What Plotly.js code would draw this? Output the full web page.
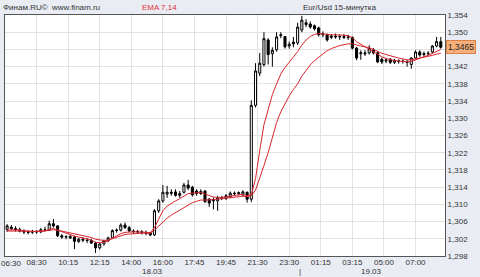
<!DOCTYPE html>
<html>
<head>
<meta charset="utf-8">
<script src="https://cdn.plot.ly/plotly-3.0.1.min.js"></script>
<style>
html,body{margin:0;padding:0;background:#e9ecf3;}
#chart{width:480px;height:277px;}
</style>
</head>
<body>
<div id="chart"></div>
<script>
// Time-axis tick labels (every 7.5 fifteen-minute candles)
const timeLabels = ["06:30","08:30","10:15","12:15","14:00","16:00","17:45","19:45","21:30","23:30","01:15","03:15","05:00","07:00"];
const dateLabels = ["18.03","19.03"];
const dateLabelCandle = [35, 87];
const daySplitCandle = [70];
const yTicks = [1.298,1.302,1.306,1.310,1.314,1.318,1.322,1.326,1.330,1.334,1.338,1.342,1.346,1.350,1.354];
const lastPrice = 1.3465;

const open = [
1.3042,1.3047,1.3044,1.3041,1.3038,1.3036,1.3035,1.3037,1.3036,1.3041,
1.3040,1.3055,1.3050,1.3027,1.3024,1.3025,1.3024,1.3014,1.3019,1.3017,
1.3016,1.3010,1.2999,1.3008,1.3016,1.3022,1.3039,1.3040,1.3052,1.3046,
1.3038,1.3037,1.3036,1.3035,1.3034,1.3029,1.3085,1.3108,1.3124,1.3128,
1.3129,1.3121,1.3128,1.3145,1.3140,1.3131,1.3125,1.3131,1.3112,1.3108,
1.3108,1.3115,1.3114,1.3118,1.3126,1.3125,1.3122,1.3128,1.3112,1.3330,
1.3405,1.3425,1.3482,1.3450,1.3459,1.3492,1.3490,1.3468,1.3477,1.3475,
1.3505,1.3522,1.3519,1.3515,1.3510,1.3494,1.3494,1.3488,1.3491,1.3489,
1.3490,1.3488,1.3488,1.3463,1.3450,1.3452,1.3452,1.3459,1.3452,1.3437,
1.3433,1.3437,1.3430,1.3432,1.3433,1.3431,1.3425,1.3440,1.3454,1.3448,
1.3450,1.3454,1.3468,1.3478];
const high = [
1.3054,1.3052,1.3049,1.3046,1.3042,1.3040,1.3041,1.3040,1.3045,1.3048,
1.3062,1.3066,1.3052,1.3031,1.3028,1.3030,1.3027,1.3022,1.3024,1.3022,
1.3020,1.3013,1.3010,1.3018,1.3025,1.3042,1.3044,1.3056,1.3058,1.3050,
1.3042,1.3041,1.3040,1.3039,1.3036,1.3089,1.3112,1.3145,1.3143,1.3135,
1.3135,1.3131,1.3150,1.3157,1.3143,1.3135,1.3135,1.3133,1.3115,1.3116,
1.3120,1.3120,1.3124,1.3130,1.3130,1.3130,1.3133,1.3130,1.3342,1.3428,
1.3452,1.3500,1.3486,1.3465,1.3500,1.3500,1.3489,1.3478,1.3489,1.3522,
1.3538,1.3530,1.3525,1.3518,1.3513,1.3502,1.3497,1.3496,1.3497,1.3495,
1.3496,1.3494,1.3490,1.3466,1.3458,1.3458,1.3470,1.3463,1.3455,1.3441,
1.3440,1.3440,1.3438,1.3437,1.3437,1.3435,1.3442,1.3458,1.3458,1.3455,
1.3456,1.3470,1.3489,1.3489];
const low = [
1.3036,1.3040,1.3037,1.3035,1.3031,1.3030,1.3031,1.3032,1.3033,1.3038,
1.3038,1.3046,1.3024,1.3020,1.3019,1.3020,1.2996,1.3010,1.3012,1.3010,
1.3008,1.2987,1.2995,1.3004,1.3012,1.3020,1.3034,1.3037,1.3043,1.3036,
1.3032,1.3031,1.3030,1.3028,1.3026,1.3027,1.3080,1.3104,1.3115,1.3120,
1.3118,1.3115,1.3125,1.3133,1.3118,1.3120,1.3122,1.3104,1.3094,1.3088,
1.3085,1.3110,1.3110,1.3114,1.3120,1.3121,1.3119,1.3104,1.3105,1.3325,
1.3398,1.3420,1.3425,1.3420,1.3455,1.3486,1.3462,1.3462,1.3465,1.3470,
1.3500,1.3512,1.3508,1.3504,1.3490,1.3488,1.3478,1.3484,1.3485,1.3482,
1.3484,1.3482,1.3460,1.3435,1.3436,1.3445,1.3448,1.3448,1.3428,1.3426,
1.3428,1.3426,1.3426,1.3427,1.3427,1.3420,1.3415,1.3437,1.3443,1.3443,
1.3445,1.3450,1.3465,1.3462];
const close = [
1.3050,1.3044,1.3041,1.3038,1.3036,1.3035,1.3037,1.3036,1.3041,1.3040,
1.3055,1.3050,1.3027,1.3024,1.3025,1.3022,1.3014,1.3019,1.3017,1.3016,
1.3010,1.2999,1.3008,1.3016,1.3022,1.3039,1.3040,1.3052,1.3046,1.3038,
1.3037,1.3036,1.3035,1.3033,1.3029,1.3085,1.3108,1.3128,1.3128,1.3126,
1.3121,1.3125,1.3145,1.3138,1.3122,1.3125,1.3130,1.3106,1.3103,1.3110,
1.3115,1.3114,1.3120,1.3126,1.3125,1.3127,1.3129,1.3112,1.3330,1.3410,
1.3428,1.3485,1.3448,1.3458,1.3489,1.3494,1.3466,1.3472,1.3473,1.3512,
1.3528,1.3518,1.3512,1.3508,1.3494,1.3496,1.3482,1.3491,1.3489,1.3490,
1.3488,1.3489,1.3463,1.3440,1.3452,1.3450,1.3462,1.3452,1.3431,1.3431,
1.3435,1.3430,1.3435,1.3433,1.3432,1.3430,1.3440,1.3454,1.3447,1.3450,
1.3451,1.3468,1.3478,1.3465];
const ema7 = [
1.3040,1.3041,1.3041,1.3040,1.3038,1.3037,1.3037,1.3037,1.3038,1.3038,
1.3042,1.3044,1.3040,1.3036,1.3033,1.3030,1.3026,1.3024,1.3022,1.3020,
1.3017,1.3012,1.3011,1.3012,1.3015,1.3021,1.3026,1.3032,1.3035,1.3036,
1.3036,1.3036,1.3036,1.3035,1.3034,1.3046,1.3066,1.3085,1.3096,1.3103,
1.3108,1.3113,1.3120,1.3125,1.3126,1.3127,1.3128,1.3124,1.3120,1.3117,
1.3116,1.3116,1.3117,1.3119,1.3121,1.3122,1.3123,1.3120,1.3122,1.3160,
1.3225,1.3285,1.3320,1.3355,1.3380,1.3403,1.3418,1.3430,1.3442,1.3455,
1.3470,1.3482,1.3490,1.3495,1.3497,1.3496,1.3494,1.3494,1.3494,1.3494,
1.3493,1.3492,1.3487,1.3478,1.3472,1.3466,1.3462,1.3456,1.3450,1.3443,
1.3439,1.3436,1.3434,1.3433,1.3432,1.3431,1.3432,1.3436,1.3440,1.3443,
1.3446,1.3451,1.3455,1.3460];
const ema14 = [
1.3038,1.3038,1.3039,1.3039,1.3038,1.3038,1.3037,1.3037,1.3037,1.3038,
1.3040,1.3041,1.3040,1.3038,1.3036,1.3034,1.3031,1.3029,1.3027,1.3025,
1.3023,1.3019,1.3017,1.3016,1.3017,1.3020,1.3023,1.3027,1.3030,1.3031,
1.3032,1.3033,1.3033,1.3033,1.3033,1.3040,1.3049,1.3060,1.3068,1.3075,
1.3081,1.3087,1.3094,1.3100,1.3104,1.3107,1.3110,1.3110,1.3110,1.3111,
1.3112,1.3113,1.3114,1.3116,1.3117,1.3118,1.3119,1.3118,1.3120,1.3133,
1.3160,1.3190,1.3220,1.3255,1.3290,1.3315,1.3335,1.3352,1.3367,1.3380,
1.3398,1.3412,1.3424,1.3434,1.3442,1.3450,1.3457,1.3462,1.3466,1.3469,
1.3471,1.3473,1.3473,1.3470,1.3468,1.3466,1.3464,1.3460,1.3455,1.3451,
1.3448,1.3445,1.3442,1.3440,1.3438,1.3436,1.3436,1.3438,1.3439,1.3441,
1.3443,1.3446,1.3449,1.3451];

const xs = close.map((_, i) => i + 0.5);
const tickPos = timeLabels.map((_, k) => k * 7.5);
const font = "Liberation Sans, Arial, sans-serif";
const lblFont = {family:font, size:8, color:'#333'};

const traces = [
  {type:'scatter', mode:'lines', x: xs, y: ema14, line:{color:'#d8262e', width:1}, hoverinfo:'skip'},
  {type:'scatter', mode:'lines', x: xs, y: ema7, line:{color:'#d8262e', width:1}, hoverinfo:'skip'},
  {type:'candlestick', x: xs, open: open, high: high, low: low, close: close,
   increasing:{line:{color:'#000000', width:1}, fillcolor:'#ffffff'},
   decreasing:{line:{color:'#000000', width:1}, fillcolor:'#000000'},
   whiskerwidth:0}
];

const annotations = [
  {xref:'paper', yref:'paper', x:-0.01, y:1.0, yshift:1, xanchor:'left', yanchor:'bottom', showarrow:false,
   text:'Финам.RU©  www.finam.ru', font:lblFont},
  {xref:'paper', yref:'paper', x:0.307, y:1.0, yshift:1, xanchor:'left', yanchor:'bottom', showarrow:false,
   text:'EMA 7,14', font:{family:font, size:8, color:'#e0303a'}},
  {xref:'paper', yref:'paper', x:0.76, y:1.0, yshift:1, xanchor:'center', yanchor:'bottom', showarrow:false,
   text:'Eur/Usd 15-минутка', font:lblFont},
  {xref:'paper', yref:'y', x:1.0, y:lastPrice, xanchor:'left', yanchor:'middle', xshift:1, showarrow:false,
   text:'1,3465', font:{family:font, size:8.5, color:'#222'}, bgcolor:'#f7b07a', bordercolor:'#d88048', borderwidth:1, borderpad:1},
  // first time label sits on the left frame edge; keep it fully visible
  {xref:'x', yref:'paper', x:tickPos[0], y:0, yshift:-1, xshift:-6, xanchor:'left', yanchor:'top', showarrow:false,
   text:timeLabels[0], font:lblFont}
];
dateLabels.forEach((d, k) => annotations.push({xref:'x', yref:'paper', x: dateLabelCandle[k], y:0, yshift:-9, xanchor:'center', yanchor:'top', showarrow:false,
  text:d, font:lblFont}));
daySplitCandle.forEach(c => annotations.push({xref:'x', yref:'paper', x:c, y:0, yshift:-9, xanchor:'center', yanchor:'top', showarrow:false,
  text:'|', font:lblFont}));

const layout = {
  width:480, height:277,
  margin:{l:5, r:35, t:15, b:21, pad:0},
  paper_bgcolor:'#e9ecf3', plot_bgcolor:'#ffffff',
  showlegend:false,
  xaxis:{range:[0,104.5], tickmode:'array', tickvals:tickPos, ticktext:timeLabels.map((t, k) => k === 0 ? '' : t),
    showgrid:true, gridcolor:'#e2e2e2', gridwidth:1, zeroline:false,
    showline:true, linecolor:'#555', linewidth:1, mirror:true,
    ticks:'', ticklabelstandoff:-2, tickfont:lblFont,
    rangeslider:{visible:false}, fixedrange:true},
  yaxis:{range:[1.298,1.354], side:'right', tickmode:'array', tickvals:yTicks,
    ticktext:yTicks.map(v => Math.abs(v - 1.346) < 1e-9 ? '' : v.toFixed(3).replace('.', ',')),
    showgrid:true, gridcolor:'#e2e2e2', gridwidth:1, zeroline:false,
    showline:true, linecolor:'#555', linewidth:1, mirror:true,
    ticks:'', tickfont:lblFont, fixedrange:true},
  annotations: annotations
};

Plotly.newPlot('chart', traces, layout, {staticPlot:true, displayModeBar:false});
</script>
</body>
</html>
